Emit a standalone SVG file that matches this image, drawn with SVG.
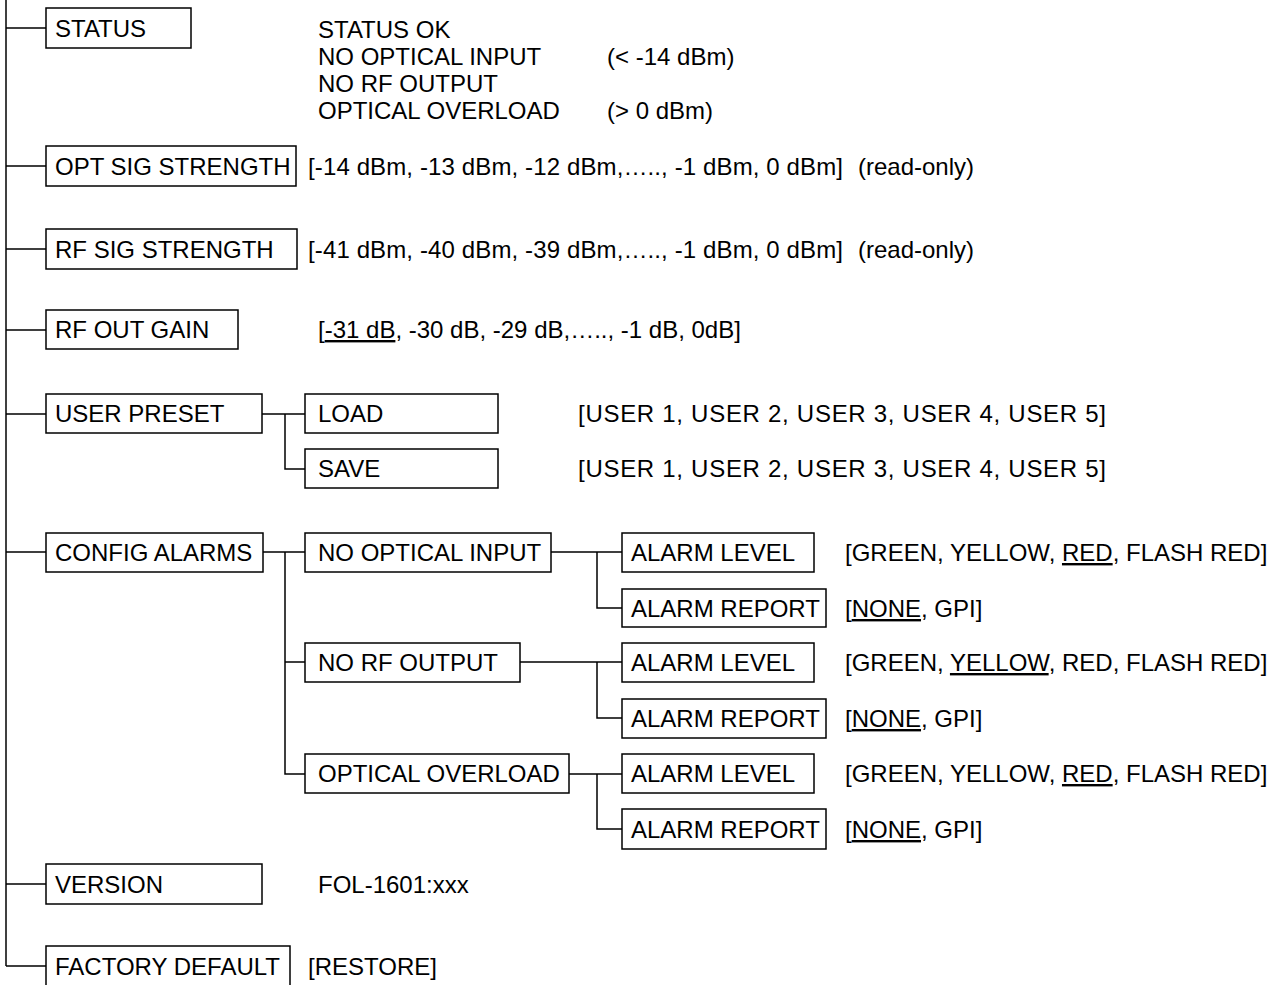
<svg xmlns="http://www.w3.org/2000/svg" width="1281" height="985" viewBox="0 0 1281 985">
<style>
  .box { fill: #ffffff; stroke: #000000; stroke-width: 1.5; }
  .wire { fill: none; stroke: #000000; stroke-width: 1.5; }
  text { font-family: "Liberation Sans", Arial, sans-serif; font-size: 24px; fill: #000000; }
  .u { text-decoration: underline; }
</style>
<rect width="1281" height="985" fill="#ffffff"/>
<g id="connectors">
  <path class="wire" d="M6 0 V966"/>
  <path class="wire" d="M6 28 H46 M6 166 H46 M6 249 H46 M6 330 H46 M6 414 H46 M6 552 H46 M6 884 H46 M6 966 H46"/>
  <path class="wire" d="M262 414 H305 M285 414 V469 H305"/>
  <path class="wire" d="M263 552 H305 M285 552 V774 H305 M285 662 H305"/>
  <path class="wire" d="M551 552 H622 M597 552 V608 H622"/>
  <path class="wire" d="M520 662 H622 M597 662 V718 H622"/>
  <path class="wire" d="M569 774 H622 M597 774 V829 H622"/>
</g>
<g id="status">
  <rect class="box" x="46" y="8" width="145" height="40"/>
  <text x="55" y="37">STATUS</text>
  <text x="318" y="38">STATUS OK</text>
  <text x="318" y="65">NO OPTICAL INPUT</text>
  <text x="607" y="65">(&lt; -14 dBm)</text>
  <text x="318" y="92">NO RF OUTPUT</text>
  <text x="318" y="119">OPTICAL OVERLOAD</text>
  <text x="607" y="119">(&gt; 0 dBm)</text>
</g>
<g id="opt-sig-strength">
  <rect class="box" x="46" y="146" width="250" height="40"/>
  <text x="55" y="175">OPT SIG STRENGTH</text>
  <text x="308" y="175" textLength="535" lengthAdjust="spacing">[-14 dBm, -13 dBm, -12 dBm,….., -1 dBm, 0 dBm]</text>
  <text x="858" y="175">(read-only)</text>
</g>
<g id="rf-sig-strength">
  <rect class="box" x="46" y="229" width="251" height="40"/>
  <text x="55" y="258">RF SIG STRENGTH</text>
  <text x="308" y="258" textLength="535" lengthAdjust="spacing">[-41 dBm, -40 dBm, -39 dBm,….., -1 dBm, 0 dBm]</text>
  <text x="858" y="258">(read-only)</text>
</g>
<g id="rf-out-gain">
  <rect class="box" x="46" y="310" width="192" height="39"/>
  <text x="55" y="338">RF OUT GAIN</text>
  <text x="318" y="338">[<tspan class="u">-31 dB</tspan>, -30 dB, -29 dB,….., -1 dB, 0dB]</text>
</g>
<g id="user-preset">
  <rect class="box" x="46" y="394" width="216" height="39"/>
  <text x="55" y="422">USER PRESET</text>
</g>
<g id="load">
  <rect class="box" x="305" y="394" width="193" height="39"/>
  <text x="318" y="422">LOAD</text>
  <text x="578" y="422" textLength="528" lengthAdjust="spacing">[USER 1, USER 2, USER 3, USER 4, USER 5]</text>
</g>
<g id="save">
  <rect class="box" x="305" y="449" width="193" height="39"/>
  <text x="318" y="477">SAVE</text>
  <text x="578" y="477" textLength="528" lengthAdjust="spacing">[USER 1, USER 2, USER 3, USER 4, USER 5]</text>
</g>
<g id="config-alarms">
  <rect class="box" x="46" y="533" width="217" height="39"/>
  <text x="55" y="561">CONFIG ALARMS</text>
</g>
<g id="no-optical-input">
  <rect class="box" x="305" y="533" width="246" height="39"/>
  <text x="318" y="561">NO OPTICAL INPUT</text>
</g>
<g id="noi-alarm-level">
  <rect class="box" x="622" y="533" width="192" height="39"/>
  <text x="631" y="561">ALARM LEVEL</text>
  <text x="845" y="561">[GREEN, YELLOW, <tspan class="u">RED</tspan>, FLASH RED]</text>
</g>
<g id="noi-alarm-report">
  <rect class="box" x="622" y="589" width="204" height="38"/>
  <text x="631" y="617">ALARM REPORT</text>
  <text x="845" y="617">[<tspan class="u">NONE</tspan>, GPI]</text>
</g>
<g id="no-rf-output">
  <rect class="box" x="305" y="643" width="215" height="39"/>
  <text x="318" y="671">NO RF OUTPUT</text>
</g>
<g id="nrf-alarm-level">
  <rect class="box" x="622" y="643" width="192" height="39"/>
  <text x="631" y="671">ALARM LEVEL</text>
  <text x="845" y="671">[GREEN, <tspan class="u">YELLOW</tspan>, RED, FLASH RED]</text>
</g>
<g id="nrf-alarm-report">
  <rect class="box" x="622" y="699" width="204" height="39"/>
  <text x="631" y="727">ALARM REPORT</text>
  <text x="845" y="727">[<tspan class="u">NONE</tspan>, GPI]</text>
</g>
<g id="optical-overload">
  <rect class="box" x="305" y="754" width="264" height="39"/>
  <text x="318" y="782">OPTICAL OVERLOAD</text>
</g>
<g id="oo-alarm-level">
  <rect class="box" x="622" y="754" width="192" height="39"/>
  <text x="631" y="782">ALARM LEVEL</text>
  <text x="845" y="782">[GREEN, YELLOW, <tspan class="u">RED</tspan>, FLASH RED]</text>
</g>
<g id="oo-alarm-report">
  <rect class="box" x="622" y="809" width="204" height="40"/>
  <text x="631" y="838">ALARM REPORT</text>
  <text x="845" y="838">[<tspan class="u">NONE</tspan>, GPI]</text>
</g>
<g id="version">
  <rect class="box" x="46" y="864" width="216" height="40"/>
  <text x="55" y="893">VERSION</text>
  <text x="318" y="893">FOL-1601:xxx</text>
</g>
<g id="factory-default">
  <rect class="box" x="46" y="946" width="244" height="44"/>
  <text x="55" y="975">FACTORY DEFAULT</text>
  <text x="308" y="975">[RESTORE]</text>
</g>
</svg>
